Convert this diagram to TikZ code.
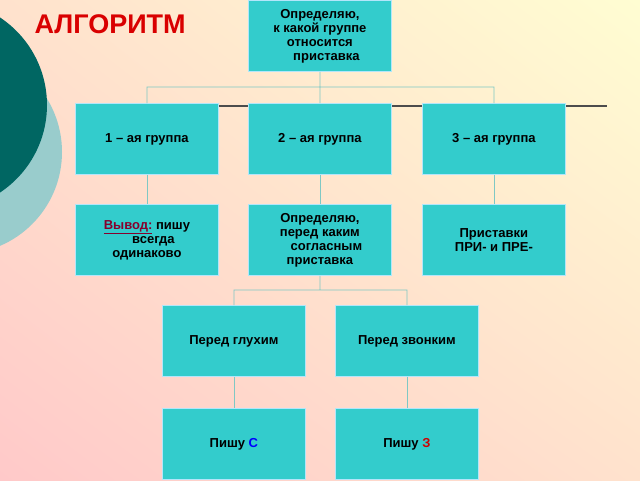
\documentclass[tikz,border=0pt]{standalone}
\usepackage{fontspec}
\setmainfont{Liberation Sans}
\usetikzlibrary{shadings}
\begin{document}
\begin{tikzpicture}[x=1pt,y=-1pt,
 box/.style={draw=white!70!cyan,line width=0.8pt,fill=boxc,minimum width=143pt,minimum height=71pt,inner sep=2pt,font=\bfseries\fontsize{13}{14}\selectfont,align=center,anchor=north west},
 conn/.style={draw=lin,line width=0.8pt}]
\definecolor{boxc}{HTML}{33CCCC}
\definecolor{lin}{HTML}{7FC8C4}
\definecolor{bgA}{HTML}{FFC9C9}
\definecolor{bgB}{HTML}{FFFDD2}
\definecolor{bgC}{HTML}{FFE2CD}
\useasboundingbox (0,0) rectangle (640,480);
\shade[lower left=bgA,upper right=bgB,upper left=bgC,lower right=bgC] (0,0) rectangle (640,480);
\begin{scope}
\clip (0,0) rectangle (640,480);
\fill[fill=teal!40!white] (-40,152) circle (102);
\fill[fill={rgb,255:red,0;green,102;blue,98}] (-58,105) circle (105);
\end{scope}
\node[anchor=west,text=red!85!black,font=\bfseries\fontsize{27}{28}\selectfont] (t) at (31,24) {АЛГОРИТМ};
\draw[gray!60!black,line width=1.5pt] (75,106) -- (607,106);
\node[box] (a) at (248,0) {Определяю,\\к какой группе\\относится\\\quad приставка};
\node[box] (b1) at (75,103) {1 – ая группа};
\node[box] (b2) at (248,103) {2 – ая группа};
\node[box] (b3) at (422,103) {3 – ая группа};
\node[box] (c1) at (75,204) {\textcolor{purple!70!black}{\underline{Вывод:}} пишу\\\quad всегда\\одинаково};
\node[box] (c2) at (248,204) {Определяю,\\перед каким\\\quad согласным\\приставка};
\node[box] (c3) at (422,204) {Приставки\\ПРИ- и ПРЕ-};
\node[box] (d1) at (162,305) {Перед глухим};
\node[box] (d2) at (335,305) {Перед звонким};
\node[box] (e1) at (162,408) {Пишу \textcolor{blue}{С}};
\node[box] (e2) at (335,408) {Пишу \textcolor{red!80!black}{З}};
\coordinate (j1) at (320,87);
\coordinate (j2) at (320,290);
\draw[conn] (a.south) -- (j1) (b1.north) |- (j1) -| (b3.north) (j1) -- (b2.north);
\draw[conn] (b1) -- (c1) (b2) -- (c2) (b3) -- (c3);
\draw[conn] (c2.south) -- (j2) (d1.north) |- (j2) -| (d2.north);
\draw[conn] (d1) -- (e1) (d2) -- (e2);
\end{tikzpicture}
\end{document}
